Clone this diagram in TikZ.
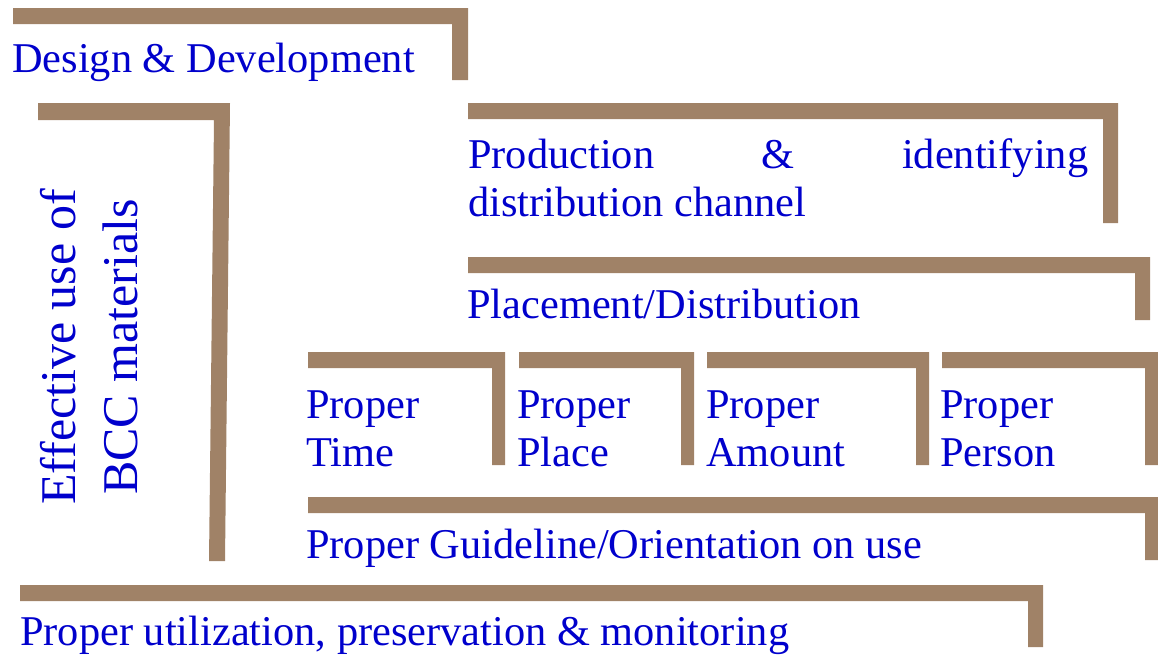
\documentclass[tikz,border=0pt]{standalone}
\usepackage{fontspec}
\setmainfont{Liberation Serif}
\definecolor{bronze}{RGB}{160,130,103}
\definecolor{inkblue}{RGB}{0,0,204}
\newcommand\bracketL[5]{% x1 y1 x2 y2 w
  \fill[bronze] (#1,#2) -- (#3,#2) -- (#3,#4) -- ({#3-#5},#4) -- ({#3-#5},#2+16) -- (#1,#2+16) -- cycle;}
\tikzset{
  lbl/.style={anchor=base west, inner sep=0pt, text=inkblue, font=\fontsize{42.4}{48}\selectfont},
}
\begin{document}
\begin{tikzpicture}[x=1pt,y=-1pt]
\useasboundingbox (0,0) rectangle (1158,656);
% brackets
\bracketL{13}{8}{468}{80}{16}
\fill[bronze] (38,103) -- (230,103) -- (225,561) -- (209,561) -- (214,120) -- (38,120) -- cycle;
\bracketL{468}{103}{1118}{223}{15}
\bracketL{468}{257}{1150}{320}{15}
\bracketL{308}{352}{505}{465}{13}
\bracketL{519}{352}{694}{465}{13}
\bracketL{707}{352}{929}{465}{13}
\bracketL{942}{352}{1158}{465}{13}
\bracketL{308}{497}{1158}{560}{13}
\bracketL{20}{585}{1043}{647}{15}
% texts
\node[lbl] (design) at (12,72) {Design \& Development};
\node[anchor=base, inner sep=0pt, text=inkblue, rotate=90, font=\fontsize{50}{62}\selectfont] (effective) at (75,347)
  {\parbox[t]{420pt}{\centering Effective use of\\BCC materials}};
\node[lbl] (production) at (468,168) {\parbox[t]{620pt}{Production\hfill\&\hfill identifying\\distribution channel}};
\node[lbl] (placement) at (467,318) {Placement/Distribution};
\node[lbl] (time) at (306,418) {\parbox[t]{180pt}{\raggedright Proper\\Time}};
\node[lbl] (place) at (517,418) {\parbox[t]{160pt}{\raggedright Proper\\Place}};
\node[lbl] (amount) at (706,418) {\parbox[t]{200pt}{\raggedright Proper\\Amount}};
\node[lbl] (person) at (940,418) {\parbox[t]{200pt}{\raggedright Proper\\Person}};
\node[lbl] (guideline) at (306,558) {Proper Guideline/Orientation on use};
\node[lbl] (utilization) at (20,645) {Proper utilization, preservation \& monitoring};
\end{tikzpicture}
\end{document}
